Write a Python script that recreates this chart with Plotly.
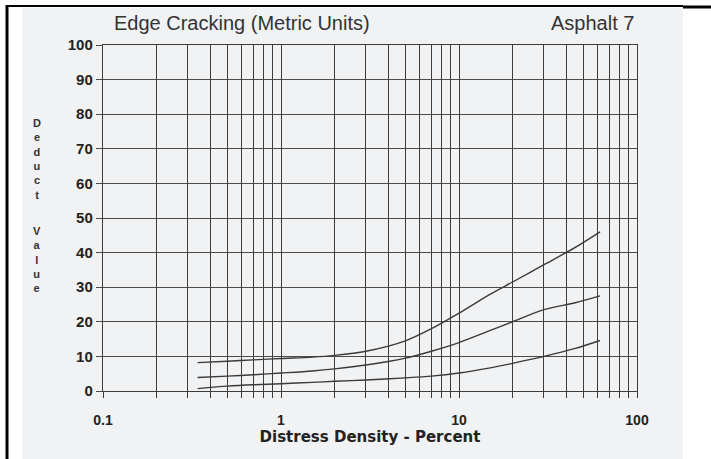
import plotly.graph_objects as go

# Distress density (percent) sample points along each severity curve
density = [0.34, 0.5, 0.7, 1, 1.5, 2, 3, 5, 7, 10, 15, 20, 30, 45, 62]
deduct_h = [8.2, 8.6, 9.0, 9.4, 9.8, 10.3, 11.5, 14.5, 18.0, 22.5, 28.0, 31.5, 36.5, 41.5, 46.0]
deduct_m = [3.9, 4.3, 4.7, 5.2, 5.8, 6.4, 7.5, 9.5, 11.5, 14.0, 17.5, 20.0, 23.5, 25.5, 27.5]
deduct_l = [0.7, 1.4, 1.8, 2.1, 2.5, 2.8, 3.2, 3.8, 4.3, 5.2, 6.7, 8.0, 10.0, 12.3, 14.6]
severity = ["H", "M", "L"]

# Log grid positions 1..9 per decade, labels only on decades
x_ticks = [m * 10 ** e for e in (-1, 0, 1) for m in range(1, 10)] + [100]
decade_text = {0.1: "0.1", 1: "1", 10: "10", 100: "100"}
x_labels = [decade_text.get(v, "") for v in x_ticks]
y_ticks = list(range(0, 101, 10))

W, H = 711, 459
L_M, R_M, T_M, B_M = 103, 74, 45, 68
PW, PH = W - L_M - R_M, H - T_M - B_M


def px(xp):
    return (xp - L_M) / PW


def py(yp):
    return (H - B_M - yp) / PH


fig = go.Figure()
line_col = "#3a3a3a"
grid_col = "#3c3c3c"
for name, vals in zip(severity, [deduct_h, deduct_m, deduct_l]):
    fig.add_trace(go.Scatter(
        x=density, y=vals, mode="lines", name=name,
        line=dict(color=line_col, width=1.4, shape="spline", smoothing=0.8),
        showlegend=False, hoverinfo="skip",
    ))
    fig.add_annotation(x=density[-1], y=vals[-1], xref="x", yref="y", text=name,
                       showarrow=False, xanchor="left", xshift=10, yshift=1,
                       font=dict(family="Liberation Sans, Arial", size=17, color="#333"))

shapes = [
    # scanned page background
    dict(type="rect", xref="paper", yref="paper", x0=px(22), x1=px(683), y0=py(459), y1=py(8),
         fillcolor="#f1f2f4", line=dict(width=0), layer="below"),
    # page frame
    dict(type="line", xref="paper", yref="paper", x0=px(6), x1=px(683), y0=py(6), y1=py(6),
         line=dict(color="#000", width=2)),
    dict(type="line", xref="paper", yref="paper", x0=px(683), x1=px(711), y0=py(7), y1=py(7),
         line=dict(color="#000", width=3)),
    dict(type="line", xref="paper", yref="paper", x0=px(7), x1=px(7), y0=py(5), y1=py(459),
         line=dict(color="#000", width=3)),
]

fig.update_layout(
    width=W, height=H,
    margin=dict(l=L_M, r=R_M, t=T_M, b=B_M),
    paper_bgcolor="white", plot_bgcolor="rgba(0,0,0,0)",
    shapes=shapes,
    xaxis=dict(type="log", range=[-1, 2], tickvals=x_ticks, ticktext=x_labels,
               showgrid=True, gridcolor=grid_col, gridwidth=1.4,
               ticks="outside", ticklen=6, tickcolor=grid_col, tickwidth=1.4,
               ticklabelstandoff=10,
               tickfont=dict(family="Liberation Sans, Arial", size=14, color="#222", weight="bold"),
               showline=True, mirror=True, linecolor=grid_col, linewidth=1.4, zeroline=False,
               title=dict(text="Distress Density - Percent", standoff=3,
                          font=dict(family="DejaVu Sans", size=15, color="#222", weight="bold"))),
    yaxis=dict(range=[0, 100], tickvals=y_ticks,
               showgrid=True, gridcolor="#4a4a4a", gridwidth=1.3,
               ticks="outside", ticklen=6, tickcolor="#4a4a4a", tickwidth=1.3,
               tickfont=dict(family="Liberation Sans, Arial", size=15, color="#222", weight="bold"),
               showline=True, mirror=True, linecolor=grid_col, linewidth=1.4, zeroline=False),
)

title_font = dict(family="Liberation Sans, Arial", size=20, color="#333")
fig.add_annotation(x=px(112), y=py(23), xref="paper", yref="paper", text="Edge Cracking (Metric Units)",
                   showarrow=False, xanchor="left", yanchor="middle", font=title_font)
fig.add_annotation(x=px(636), y=py(23), xref="paper", yref="paper", text="Asphalt 7",
                   showarrow=False, xanchor="right", yanchor="middle", font=title_font)

# vertical stacked axis label, one letter per line
ylab_font = dict(family="Liberation Sans, Arial", size=11, color="#333", weight="bold")
fig.add_annotation(x=px(37), y=py(159), xref="paper", yref="paper", text="<br>".join("Deduct"),
                   showarrow=False, xanchor="center", yanchor="middle", borderpad=0, font=ylab_font)
fig.add_annotation(x=px(37), y=py(259), xref="paper", yref="paper", text="<br>".join("Value"),
                   showarrow=False, xanchor="center", yanchor="middle", borderpad=0, font=ylab_font)

fig.write_html("out.html")
